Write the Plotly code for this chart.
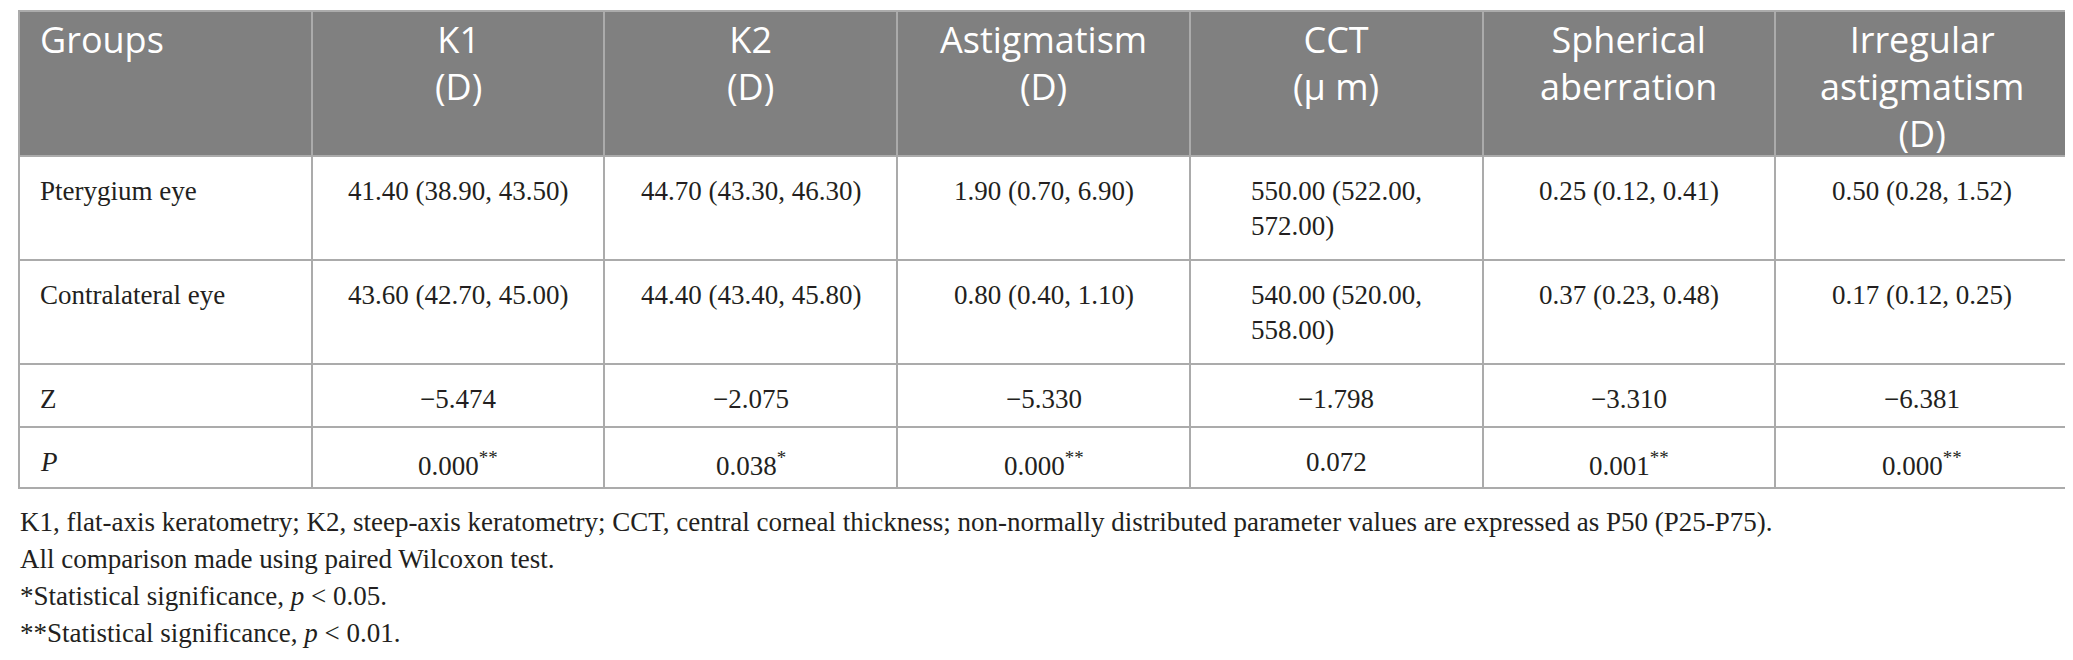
import plotly.graph_objects as go

# column headers
col_headers = ["Groups", "K1<br>(D)", "K2<br>(D)", "Astigmatism<br>(D)", "CCT<br>(μ m)",
               "Spherical<br>aberration", "Irregular<br>astigmatism<br>(D)"]

# median (P25, P75) per group
groups = ["Pterygium eye", "Contralateral eye"]
k1 = ["41.40 (38.90, 43.50)", "43.60 (42.70, 45.00)"]
k2 = ["44.70 (43.30, 46.30)", "44.40 (43.40, 45.80)"]
astigmatism = ["1.90 (0.70, 6.90)", "0.80 (0.40, 1.10)"]
cct = ["550.00 (522.00,<br>572.00)", "540.00 (520.00,<br>558.00)"]
spherical = ["0.25 (0.12, 0.41)", "0.37 (0.23, 0.48)"]
irregular = ["0.50 (0.28, 1.52)", "0.17 (0.12, 0.25)"]

# test statistics
z_values = ["−5.474", "−2.075", "−5.330", "−1.798", "−3.310", "−6.381"]
p_values = ["0.000<sup>**</sup>", "0.038<sup>*</sup>", "0.000<sup>**</sup>",
            "0.072", "0.001<sup>**</sup>", "0.000<sup>**</sup>"]

footnotes = [
    "K1, flat-axis keratometry; K2, steep-axis keratometry; CCT, central corneal thickness; "
    "non-normally distributed parameter values are expressed as P50 (P25-P75).",
    "All comparison made using paired Wilcoxon test.",
    "*Statistical significance, <i>p</i> &lt; 0.05.",
    "**Statistical significance, <i>p</i> &lt; 0.01.",
]

W, H = 2073, 660
left, right, top = 11, 2060, 11
header_h, group_h, stat_h = 145, 104, 62
shift = 8  # table trace draws a few px below its domain top
line_col = "#ababab"
serif = "Liberation Serif"
text_col = "#231f20"
ncols = len(col_headers)
col_w = (right - left) / ncols


def px_x(x):
    return x / W


def px_y(y):
    return 1 - y / H


def add_text(fig, text, col, y_top, font, align="center"):
    '''
    Places a cell text at the top of a cell
    - col: column index (0 = row labels, left aligned)
    - y_top: pixel y of text box top
    '''
    if col == 0:
        x, anchor = left + 19, "left"
    else:
        x, anchor = left + (col + 0.5) * col_w, "center"
    fig.add_annotation(
        text=text, xref="paper", yref="paper",
        x=px_x(x), y=px_y(y_top), xanchor=anchor, yanchor="top",
        align=align, showarrow=False, font=font,
    )


body_font = dict(family=serif, size=27, color=text_col)
head_font = dict(family="Open Sans", size=36, color="white")
blank = lambda n: [[""] * n for _ in range(ncols)]

fig = go.Figure()

# grid: header + two group rows
fig.add_trace(go.Table(
    domain=dict(x=[px_x(left), px_x(right)], y=[0, px_y(top - shift)]),
    columnwidth=[1] * ncols,
    header=dict(values=[""] * ncols, fill_color="#808080",
                line=dict(color=line_col, width=2), height=header_h),
    cells=dict(values=blank(len(groups)), fill_color="white",
               line=dict(color=line_col, width=2), height=group_h),
))

# grid: Z and P rows
top2 = top + header_h + len(groups) * group_h
fig.add_trace(go.Table(
    domain=dict(x=[px_x(left), px_x(right)], y=[0, px_y(top2 - shift)]),
    columnwidth=[1] * ncols,
    header=dict(values=[""] * ncols, fill_color="white",
                line=dict(color=line_col, width=2), height=stat_h + 1),
    cells=dict(values=blank(1), fill_color="white",
               line=dict(color=line_col, width=2), height=stat_h - 1),
))

# header texts
for j, label in enumerate(col_headers):
    add_text(fig, label, j, top - 6, head_font)

# group rows
columns = [k1, k2, astigmatism, cct, spherical, irregular]
for i, g in enumerate(groups):
    y0 = top + header_h + i * group_h + 18 - shift
    add_text(fig, g, 0, y0, body_font)
    for j, col in enumerate(columns):
        add_text(fig, col[i], j + 1, y0, body_font, align="left")

# statistic rows
for i, (label, vals) in enumerate([("Z", z_values), ("<i>P</i>", p_values)]):
    y0 = top2 + i * (stat_h + 1) + 18 - shift
    add_text(fig, label, 0, y0, body_font)
    for j, v in enumerate(vals):
        add_text(fig, v, j + 1, y0, body_font)

# footnotes
for i, note in enumerate(footnotes):
    fig.add_annotation(
        text=note, xref="paper", yref="paper",
        x=px_x(left - 1), y=px_y(505 - shift + 37 * i),
        xanchor="left", yanchor="top", showarrow=False,
        font=body_font,
    )

fig.update_layout(
    width=W, height=H,
    margin=dict(l=0, r=0, t=0, b=0),
    paper_bgcolor="white",
    plot_bgcolor="white",
)

fig.write_html("out.html")
